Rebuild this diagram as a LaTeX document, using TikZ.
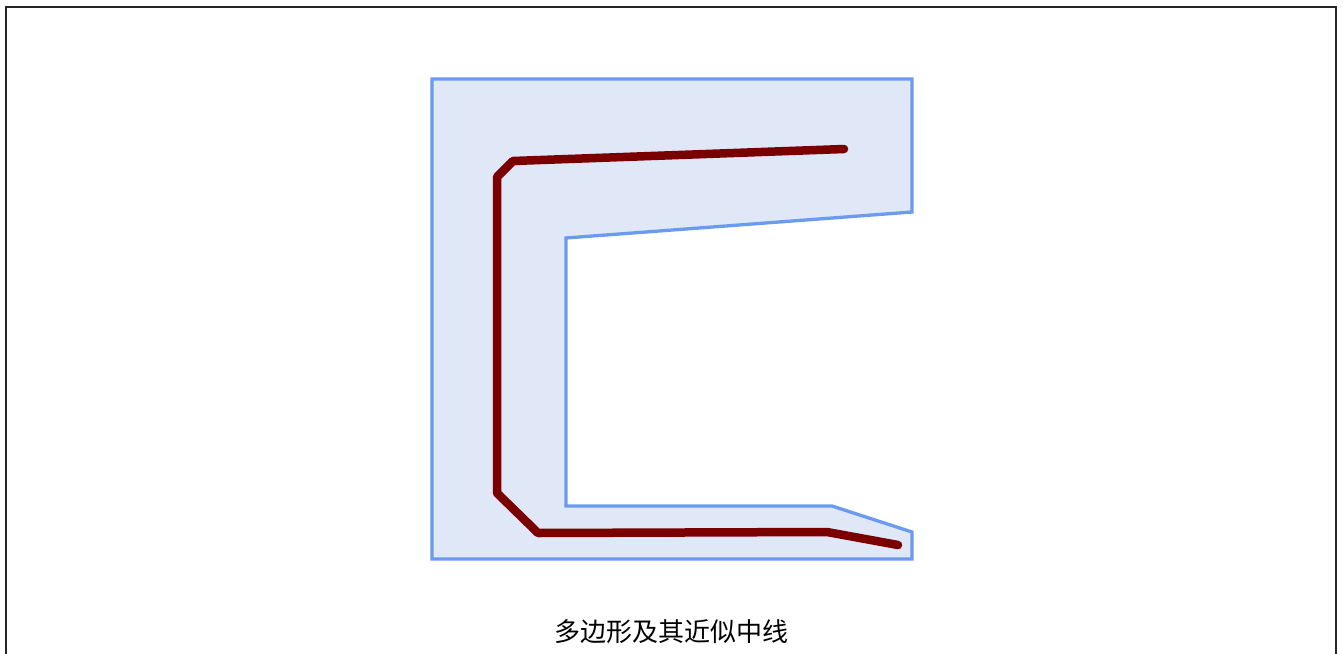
\documentclass[tikz,border=0pt]{standalone}
\usepackage{fontspec}
\newfontfamily\cjk{Noto Sans CJK SC}
\definecolor{polyblue}{HTML}{6A9BEE}
\definecolor{polyfill}{HTML}{E0E7F6}
\definecolor{medred}{HTML}{7A0000}
\tikzset{
  polystyle/.style={draw=polyblue, fill=polyfill, line width=3.3pt, line join=miter},
  medstyle/.style={draw=medred, line width=8.5pt, line cap=round, line join=round},
  framestyle/.style={draw=black!85, line width=1.5pt},
  captionstyle/.style={font=\cjk\fontsize{26}{30}\selectfont, inner sep=0pt}
}
\begin{document}
\begin{tikzpicture}[x=1pt,y=-1pt]
\useasboundingbox (0,0) rectangle (1343,653);
\draw[framestyle] (6,7) rectangle (1336,670);
\draw[polystyle] (432,79) -- (912,79) -- (912,212) -- (566,238) -- (566,506) -- (832,506) -- (912,532) -- (912,559) -- (432,559) -- cycle;
\draw[medstyle] (844,149) -- (513,161) -- (497,177) -- (497,493) -- (538,533) -- (827,532) -- (898,545);
\node[captionstyle] (cap) at (671,632) {多边形及其近似中线};
\end{tikzpicture}
\end{document}
